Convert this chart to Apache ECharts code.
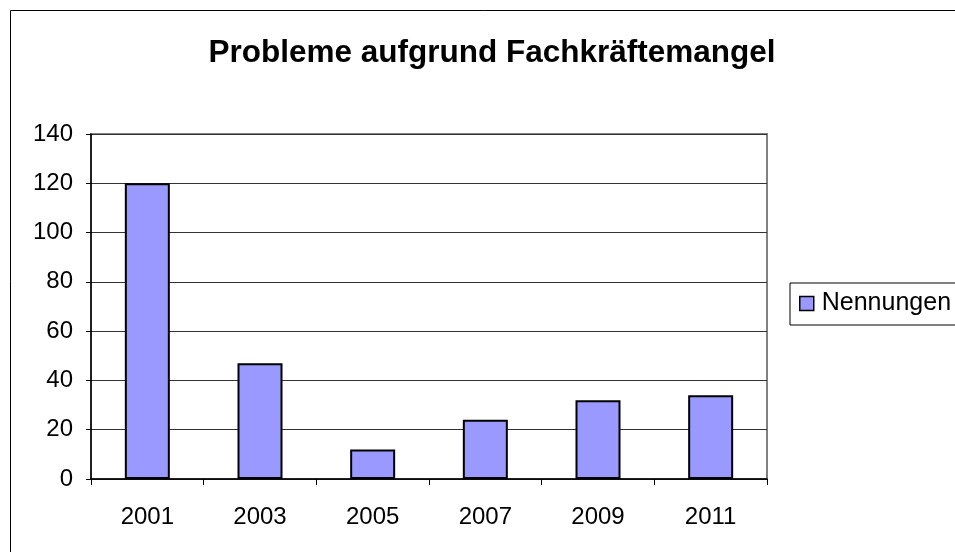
<!DOCTYPE html>
<html><head><meta charset="utf-8">
<script src="https://cdn.jsdelivr.net/npm/echarts@6/dist/echarts.min.js"></script>
<style>html,body{margin:0;padding:0;background:#fff}#c{width:955px;height:552px}</style>
</head><body><div id="c"></div>
<script>
const categories = ['2001','2003','2005','2007','2009','2011'];
const nennungen = [120, 47, 12, 24, 32, 34];
const yTicks = [0,20,40,60,80,100,120,140];
const seriesName = 'Nennungen';
const titleText = 'Probleme aufgrund Fachkräftemangel';

const FONT = 'Liberation Sans, Arial, sans-serif';
const chart = echarts.init(document.getElementById('c'), null, {renderer:'canvas'});
chart.setOption({
  animation:false,
  backgroundColor:'#fff',
  textStyle:{fontFamily:FONT},
  graphic:[{type:'rect',shape:{x:10.5,y:10.5,width:970,height:570},style:{fill:'none',stroke:'#000',lineWidth:1},silent:true}],
  title:{text:titleText,left:487,textAlign:'center',top:32,textStyle:{fontSize:31.5,fontWeight:'bold',color:'#000',fontFamily:FONT}},
  legend:{left:790,top:283,orient:'vertical',data:[{name:seriesName,icon:'rect'}],itemWidth:14,itemHeight:14,itemGap:0,
    borderColor:'#000',borderWidth:1,padding:[8,40,9,9],
    textStyle:{fontSize:25,color:'#000',fontFamily:FONT,padding:[0,0,0,3]},
    itemStyle:{borderColor:'#000',borderWidth:1.5}},
  grid:{left:91,top:134,width:676,height:345,show:true,borderColor:'#808080',borderWidth:2,containLabel:false},
  xAxis:{type:'category',data:categories,
    axisLine:{lineStyle:{color:'#000',width:1.5}},
    axisTick:{show:true,alignWithLabel:false,length:6,lineStyle:{color:'#000'}},
    axisLabel:{fontSize:24,color:'#000',margin:26}},
  yAxis:{type:'value',min:0,max:140,interval:20,
    axisLine:{show:true,lineStyle:{color:'#000',width:1.5}},
    axisTick:{show:true,length:5,lineStyle:{color:'#000'}},
    axisLabel:{fontSize:24,color:'#000',margin:18,formatter:v=>yTicks.includes(v)?String(v):''},
    splitLine:{lineStyle:{color:'#333',width:1}}},
  series:[{name:seriesName,type:'bar',data:nennungen,barWidth:45,
    itemStyle:{color:'#9999FF',borderColor:'#000',borderWidth:2}}]
});
</script></body></html>
